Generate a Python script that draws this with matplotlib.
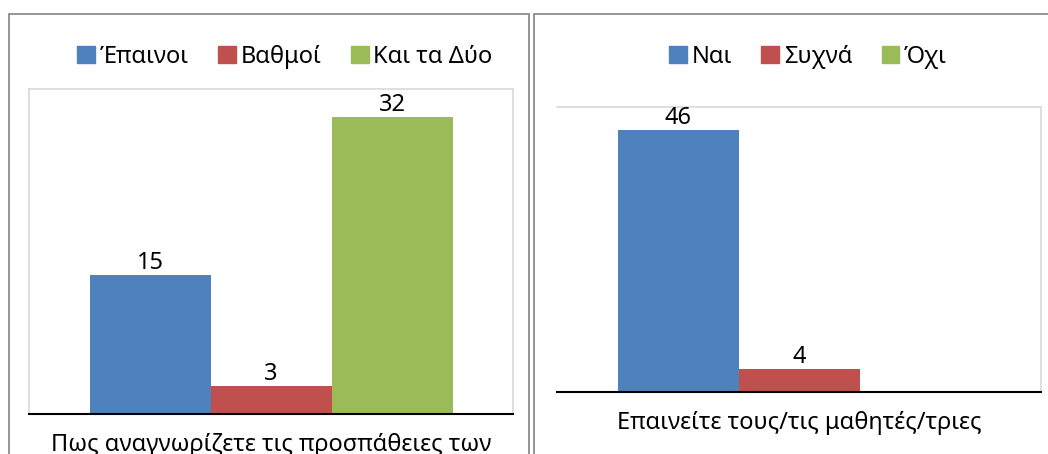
import matplotlib
matplotlib.use("Agg")
import matplotlib.pyplot as plt
from matplotlib.patches import Rectangle, Patch

plt.rcParams['font.family'] = ['Noto Sans', 'DejaVu Sans']

# chart data
left_series = ['Έπαινοι', 'Βαθμοί', 'Και τα Δύο']
left_values = [15, 3, 32]
left_title = 'Πως αναγνωρίζετε τις προσπάθειες των'

right_series = ['Ναι', 'Συχνά', 'Όχι']
right_values = [46, 4, 0]
right_title = 'Επαινείτε τους/τις μαθητές/τριες'

colors = ['#4F81BD', '#C0504D', '#9BBB59']
W, H = 1048, 454
fs = 17

fig = plt.figure(figsize=(W / 100, H / 100), dpi=100)

# outer chart frames (they run past the bottom edge, as in the source)
for x0, x1 in [(9, 529), (534, 1060)]:
    fig.patches.append(Rectangle((x0 / W, -0.1), (x1 - x0) / W, 1.1 - 14 / H,
                                 transform=fig.transFigure, fill=False,
                                 edgecolor='#8C8C8C', linewidth=1.3))


def draw(rect, series, values, ymax, xlabel, legend_x, show_left=True):
    ax = fig.add_axes(rect)
    n = len(series)
    w = 0.25
    for i, (name, v) in enumerate(zip(series, values)):
        pos = (i - (n - 1) / 2) * w
        ax.bar(pos, v, width=w, color=colors[i], label=name)
        if v > 0:
            ax.annotate(str(v), (pos, v), xytext=(0, 0), textcoords='offset points',
                        ha='center', va='bottom', fontsize=fs)
    ax.set_xlim(-0.5, 0.5)
    ax.set_ylim(0, ymax)
    ax.set_xticks([])
    ax.set_yticks([])
    for s in ['top', 'right', 'left']:
        ax.spines[s].set_color('#D9D9D9')
        ax.spines[s].set_linewidth(1.2)
    ax.spines['left'].set_visible(show_left)
    ax.spines['bottom'].set_color('#000000')
    ax.spines['bottom'].set_linewidth(1.5)
    ax.set_xlabel(xlabel, fontsize=fs, labelpad=14)
    handles = [Patch(color=c) for c in colors]
    fig.legend(handles, series, loc='center', bbox_to_anchor=(legend_x / W, 1 - 57 / H),
               ncol=n, frameon=False, fontsize=fs, handlelength=0.75, handleheight=0.75,
               handletextpad=0.2, columnspacing=1.25)
    return ax


draw([29 / W, 1 - 414 / H, 484 / W, 325 / H], left_series, left_values, 35,
     left_title, 285)
draw([557 / W, 1 - 392 / H, 484 / W, 285 / H], right_series, right_values, 50,
     right_title, 808, show_left=False)

fig.savefig('out.png', dpi=100)
